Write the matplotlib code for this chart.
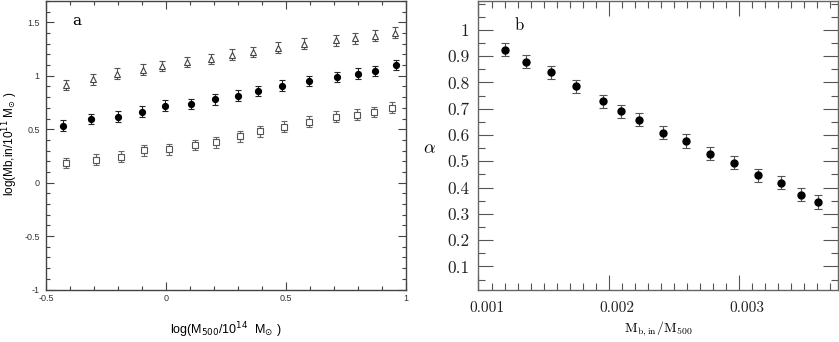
import matplotlib
matplotlib.use("Agg")
from matplotlib import pyplot as plt
from matplotlib.ticker import MultipleLocator, FixedLocator, FormatStrFormatter
from matplotlib.transforms import ScaledTranslation

# panel a: log(M500/10^14 Msun) vs log(Mb,in/10^11 Msun)
x_tri = [-0.418, -0.303, -0.204, -0.097, -0.015, 0.088, 0.188, 0.276,
         0.364, 0.465, 0.575, 0.708, 0.789, 0.869, 0.955]
y_tri = [0.913, 0.966, 1.021, 1.058, 1.092, 1.129, 1.157, 1.198,
         1.222, 1.263, 1.300, 1.333, 1.352, 1.377, 1.402]
x_dot = [-0.429, -0.311, -0.201, -0.101, -0.005, 0.105, 0.203, 0.300,
         0.384, 0.484, 0.594, 0.711, 0.801, 0.869, 0.958]
y_dot = [0.532, 0.595, 0.619, 0.665, 0.721, 0.737, 0.780, 0.814,
         0.857, 0.906, 0.950, 0.990, 1.021, 1.045, 1.101]
x_sq = [-0.418, -0.293, -0.189, -0.092, 0.012, 0.121, 0.208, 0.308,
        0.392, 0.492, 0.596, 0.707, 0.797, 0.865, 0.940]
y_sq = [0.183, 0.214, 0.242, 0.301, 0.313, 0.353, 0.378, 0.433,
        0.480, 0.523, 0.572, 0.619, 0.637, 0.662, 0.702]
err_a = 0.05

# panel b: Mb,in/M500 vs alpha
x_b = [0.001202, 0.001362, 0.001554, 0.001746, 0.001956, 0.002092, 0.002233,
       0.002415, 0.002590, 0.002777, 0.002964, 0.003144, 0.003323, 0.003477,
       0.003605]
y_b = [0.925, 0.879, 0.839, 0.786, 0.728, 0.690, 0.658, 0.608,
       0.577, 0.529, 0.495, 0.447, 0.419, 0.372, 0.345]
err_b = 0.025

alpha_ticks = [0.1, 0.2, 0.3, 0.4, 0.5, 0.6, 0.7, 0.8, 0.9, 1.0]

plt.rcParams['axes.unicode_minus'] = False
sans = ['Liberation Sans', 'DejaVu Sans']

fig = plt.figure(figsize=(8.39, 3.42), dpi=100)
ax1 = fig.add_axes([0.0548, 0.1535, 0.4291, 0.8436])
ax2 = fig.add_axes([0.5703, 0.152, 0.4285, 0.845])

# ---- panel a
ax1.errorbar(x_tri, y_tri, yerr=err_a, fmt='^', ms=4.5, mfc='white', mec='#444444',
             mew=0.8, ecolor='#555555', elinewidth=0.8, capsize=2.2, capthick=0.8)
ax1.errorbar(x_dot, y_dot, yerr=err_a, fmt='o', ms=4.2, mfc='black', mec='black',
             ecolor='#222222', elinewidth=0.8, capsize=2.2, capthick=0.8)
ax1.errorbar(x_sq, y_sq, yerr=err_a, fmt='s', ms=3.8, mfc='white', mec='#555555',
             mew=0.8, ecolor='#666666', elinewidth=0.8, capsize=2.2, capthick=0.8)

ax1.set_xlim(-0.5, 1.0)
ax1.set_ylim(-1.0, 1.7)
ax1.xaxis.set_major_locator(MultipleLocator(0.5))
ax1.xaxis.set_minor_locator(MultipleLocator(0.1))
ax1.yaxis.set_major_locator(MultipleLocator(0.5))
ax1.yaxis.set_minor_locator(MultipleLocator(0.1))
ax1.xaxis.set_major_formatter(FormatStrFormatter('%g'))
ax1.yaxis.set_major_formatter(FormatStrFormatter('%g'))
ax1.tick_params(which='both', direction='in', top=True, right=True,
                color='#444444', labelsize=6.5, labelcolor='#333333',
                labelfontfamily='Liberation Sans')
ax1.tick_params(which='major', length=6, width=0.8)
ax1.tick_params(which='minor', length=3, width=0.8)
ax1.tick_params(axis='y', pad=4.5)
ax1.tick_params(axis='x', pad=3.5)
for s in ax1.spines.values():
    s.set_color('#444444')
    s.set_linewidth(1.0)

ax1.set_xlabel(r'log(M$_{500}$/10$^{14}$  M$_{\odot}$ )', fontsize=9,
               family=sans, math_fontfamily='dejavusans', labelpad=12)
fig.text(10 / 839, 1 - 144 / 342, r'log(Mb,in/10$^{11}$ M$_{\odot}$ )', fontsize=8.5,
         family=sans, math_fontfamily='dejavusans', rotation=90,
         ha='center', va='center')
ax1.text(0.086, 0.931, 'a', transform=ax1.transAxes, fontsize=11,
         family='DejaVu Serif', ha='center', va='center')

# ---- panel b
ax2.errorbar(x_b, y_b, yerr=err_b, fmt='o', ms=5, mfc='black', mec='black',
             ecolor='#555555', elinewidth=0.8, capsize=2.8, capthick=0.8)

ax2.set_xlim(0.001, 0.00376)
ax2.set_ylim(0.01, 1.11)
ax2.xaxis.set_major_locator(MultipleLocator(0.001))
ax2.xaxis.set_minor_locator(MultipleLocator(0.0001))
ax2.yaxis.set_major_locator(FixedLocator(alpha_ticks))
ax2.yaxis.set_minor_locator(MultipleLocator(0.05))
ax2.xaxis.set_major_formatter(FormatStrFormatter('%g'))
ax2.yaxis.set_major_formatter(FormatStrFormatter('%g'))
ax2.tick_params(which='both', direction='in', top=True, right=True,
                color='#555555', labelfontfamily='cmr10', labelcolor='#222222')
ax2.tick_params(which='major', length=11, width=0.8)
ax2.tick_params(which='minor', length=5, width=0.8)
ax2.tick_params(axis='y', labelsize=12.5, pad=6.5)
ax2.tick_params(axis='x', labelsize=11, pad=8)
for s in ax2.spines.values():
    s.set_color('#666666')
    s.set_linewidth(1.0)

# x labels in the original sit a little right of their ticks
shift = ScaledTranslation(8 / 100, 0, fig.dpi_scale_trans)
for lab in ax2.get_xticklabels():
    lab.set_transform(lab.get_transform() + shift)

ax2.set_xlabel(r'$\mathrm{M_{b,in}/M_{500}}$', fontsize=10, math_fontfamily='cm')
ax2.xaxis.set_label_coords(0.5, -0.10)
ax2.set_ylabel(r'$\alpha$', fontsize=13, math_fontfamily='cm', rotation=0,
               va='center', ha='center')
ax2.yaxis.set_label_coords(-0.135, 0.49)
ax2.text(0.1127, 0.917, 'b', transform=ax2.transAxes, fontsize=12,
         family='cmr10', ha='center', va='center')

fig.savefig('out.png', dpi=100)
